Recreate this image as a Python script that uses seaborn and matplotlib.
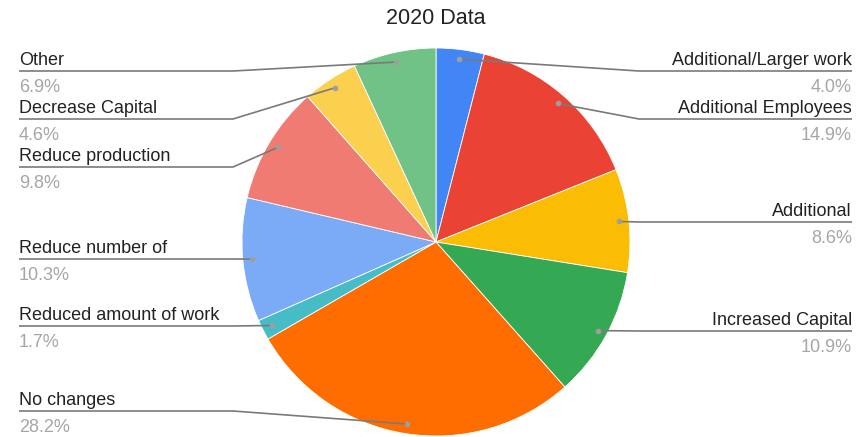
import numpy as np
import matplotlib
matplotlib.use("Agg")
import matplotlib.pyplot as plt
import seaborn as sns

# data (clockwise from 12 o'clock)
categories = ["Additional/Larger work", "Additional Employees", "Additional",
              "Increased Capital", "No changes", "Reduced amount of work",
              "Reduce number of", "Reduce production", "Decrease Capital", "Other"]
shares = [4.0, 14.9, 8.6, 10.9, 28.2, 1.7, 10.3, 9.8, 4.6, 6.9]
colors = ["#4285F4", "#EA4335", "#FBBC04", "#34A853", "#FF6D01",
          "#46BDC6", "#7BAAF7", "#F07B72", "#FCD04F", "#71C287"]

# layout, in pixels from the top-left corner
W, H = 865, 437
cx, cy, R = 436, 242, 194
label_y = [71, 119, 222, 331, 411, 326, 259, 167, 119, 71]
left_x, right_x = 19, 852
left_elbow, right_elbow = 233, 639

sns.set_theme(style="white")
plt.rcParams["font.family"] = ["Liberation Sans", "DejaVu Sans"]

fig = plt.figure(figsize=(W / 100, H / 100), dpi=100)
ax = fig.add_axes([0, 0, 1, 1])

pal = sns.color_palette(colors)
ax.pie(shares, colors=pal, startangle=90, counterclock=False,
       center=(cx, H - cy), radius=R,
       wedgeprops=dict(edgecolor="white", linewidth=0.6))

ax.text(cx, H - 18, "2020 Data", ha="center", va="center", fontsize=15.5, color="#222222")

total = sum(shares)
cum = np.cumsum([0] + shares[:-1])
line_col = "#7a7a7a"
for name, val, start, ly in zip(categories, shares, cum, label_y):
    mid = 2 * np.pi * (start + val / 2) / total
    dx = cx + 0.95 * R * np.sin(mid)
    dy = cy - 0.95 * R * np.cos(mid)
    yl = H - ly
    if np.sin(mid) >= 0:
        xs = [right_x, right_elbow, dx]
        ha, tx = "right", right_x
    else:
        xs = [left_x, left_elbow, dx]
        ha, tx = "left", left_x
    ax.plot(xs, [yl, yl, H - dy], color=line_col, lw=1.2, solid_capstyle="butt", zorder=3)
    ax.scatter([dx], [H - dy], s=16, color="#9e9e9e", zorder=4, linewidths=0)
    ax.text(tx, yl + 6, name, ha=ha, va="baseline", fontsize=13, color="#222222")
    ax.text(tx, yl - 21, f"{val:.1f}%", ha=ha, va="baseline", fontsize=13, color="#a6a6a6")

ax.set_xlim(0, W)
ax.set_ylim(0, H)
ax.set_aspect("equal")
ax.axis("off")

fig.savefig("out.png", dpi=100)
